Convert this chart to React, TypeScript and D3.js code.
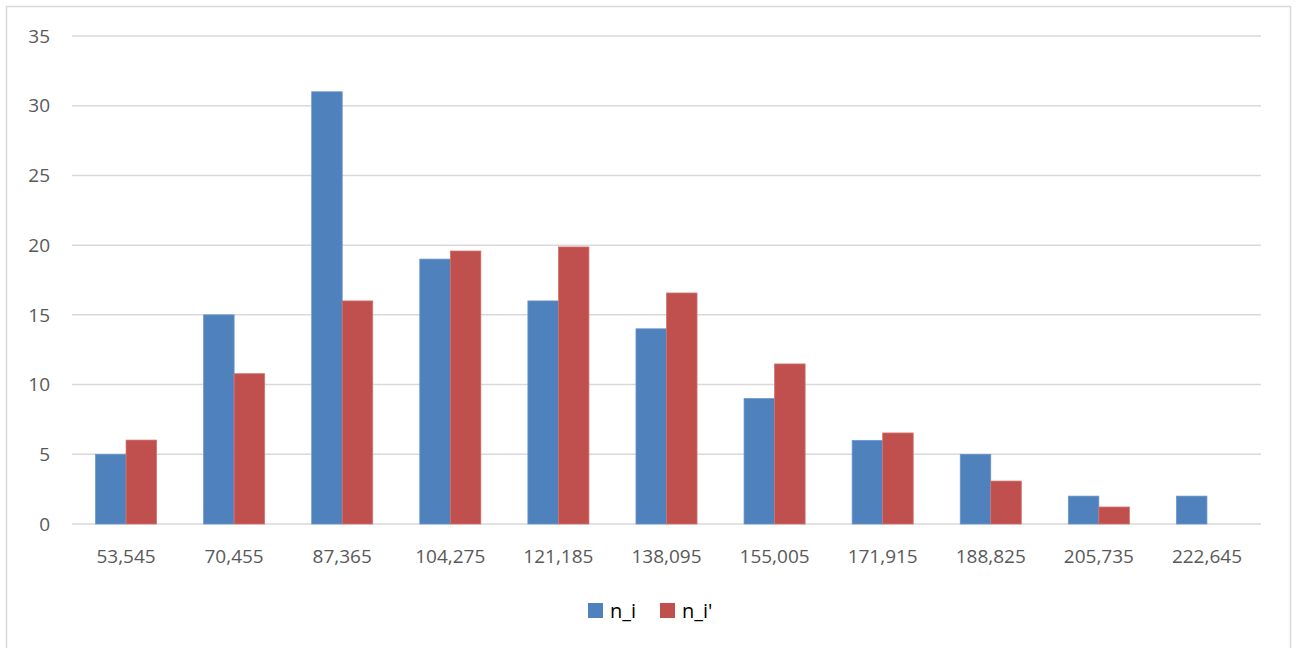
import React from "react";
import * as d3 from "d3";

const categories = ["53,545", "70,455", "87,365", "104,275", "121,185", "138,095", "155,005", "171,915", "188,825", "205,735", "222,645"];
const seriesNames = ["n_i", "n_i'"];
const ni = [5, 15, 31, 19, 16, 14, 9, 6, 5, 2, 2];
const niPrime = [6.02, 10.78, 16.0, 19.58, 19.87, 16.57, 11.48, 6.53, 3.08, 1.22, 0];
const yTicks = [0, 5, 10, 15, 20, 25, 30, 35];
const colors = ["#4F81BD", "#C0504D"];
const strokes = ["#6A96CC", "#D07370"];

export default function App() {
  const W = 1296, H = 648;
  const left = 72, right = 1261, top = 36, bottom = 524;
  const x = d3.scaleBand<string>().domain(categories).range([left, right]).paddingInner(0.435).paddingOuter(0.2175);
  const y = d3.scaleLinear().domain([0, 35]).range([bottom, top]);
  const xs = d3.scaleBand<number>().domain([0, 1]).range([0, x.bandwidth()]);
  const series = [ni, niPrime];
  const font = "'Open Sans', sans-serif";
  return (
    <svg width={W} height={H} style={{ position: "absolute", left: 0, top: 0, background: "#fff" }}>
      <rect x={6.5} y={6.5} width={1284} height={660} fill="#fff" stroke="#D9D9D9" strokeWidth={1.5} />
      {yTicks.map((t) => (
        <g key={t}>
          <line x1={left} x2={right} y1={y(t)} y2={y(t)} stroke="#D9D9D9" strokeWidth={1.5} />
          <text x={50} y={y(t)} dy="0.35em" textAnchor="end" fontFamily={font} fontSize={19} fill="#595959">{t}</text>
        </g>
      ))}
      {series.map((vals, si) =>
        vals.map((v, i) =>
          v > 0 ? (
            <rect key={si + "-" + i}
              x={(x(categories[i]) as number) + (xs(si) as number)}
              y={y(v)}
              width={xs.bandwidth()}
              height={y(0) - y(v)}
              fill={colors[si]}
              stroke={strokes[si]}
              strokeWidth={0.75}
            />
          ) : null
        )
      )}
      {categories.map((c) => (
        <text key={c} x={(x(c) as number) + x.bandwidth() / 2} y={556} dy="0.35em" textAnchor="middle" fontFamily={font} fontSize={19} fill="#595959">{c}</text>
      ))}
      <g>
        <rect x={588} y={603} width={15} height={15} fill={colors[0]} />
        <text x={610} y={611} dy="0.35em" fontFamily={font} fontSize={20} fill="#000">{seriesNames[0]}</text>
        <rect x={660} y={603} width={15} height={15} fill={colors[1]} />
        <text x={682} y={611} dy="0.35em" fontFamily={font} fontSize={20} fill="#000">{seriesNames[1]}</text>
      </g>
    </svg>
  );
}
